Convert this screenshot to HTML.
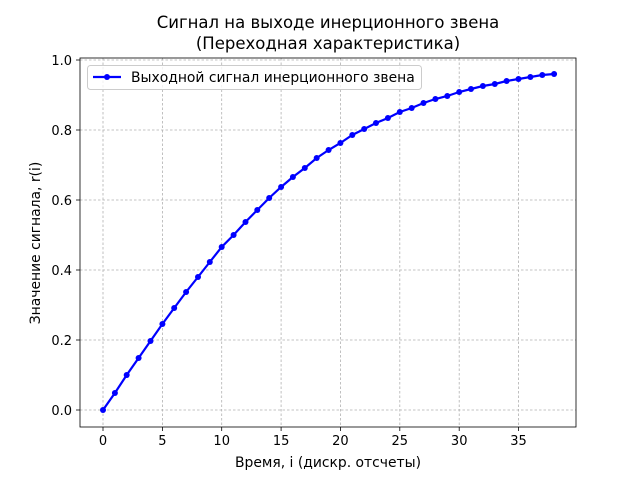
<!DOCTYPE html>
<html><head><meta charset="utf-8"><style>body{margin:0;background:#fff}</style></head><body>
<svg width="640" height="480" xmlns="http://www.w3.org/2000/svg" font-family="DejaVu Sans, sans-serif">
<rect width="640" height="480" fill="#fff"/>
<g stroke="#b0b0b0" stroke-width="0.8" stroke-dasharray="2.5,2">
<line x1="103" y1="58" x2="103" y2="427"/><line x1="162.4" y1="58" x2="162.4" y2="427"/><line x1="221.7" y1="58" x2="221.7" y2="427"/><line x1="281.1" y1="58" x2="281.1" y2="427"/><line x1="340.4" y1="58" x2="340.4" y2="427"/><line x1="399.8" y1="58" x2="399.8" y2="427"/><line x1="459.2" y1="58" x2="459.2" y2="427"/><line x1="518.5" y1="58" x2="518.5" y2="427"/>
<line x1="80" y1="410" x2="576" y2="410"/><line x1="80" y1="340" x2="576" y2="340"/><line x1="80" y1="270" x2="576" y2="270"/><line x1="80" y1="200" x2="576" y2="200"/><line x1="80" y1="130" x2="576" y2="130"/><line x1="80" y1="60" x2="576" y2="60"/>
</g>
<rect x="80" y="58" width="496" height="369" fill="none" stroke="#000" stroke-width="0.8"/>
<g stroke="#000" stroke-width="0.8">
<line x1="103" y1="427" x2="103" y2="431"/><line x1="162.4" y1="427" x2="162.4" y2="431"/><line x1="221.7" y1="427" x2="221.7" y2="431"/><line x1="281.1" y1="427" x2="281.1" y2="431"/><line x1="340.4" y1="427" x2="340.4" y2="431"/><line x1="399.8" y1="427" x2="399.8" y2="431"/><line x1="459.2" y1="427" x2="459.2" y2="431"/><line x1="518.5" y1="427" x2="518.5" y2="431"/>
<line x1="76" y1="410" x2="80" y2="410"/><line x1="76" y1="340" x2="80" y2="340"/><line x1="76" y1="270" x2="80" y2="270"/><line x1="76" y1="200" x2="80" y2="200"/><line x1="76" y1="130" x2="80" y2="130"/><line x1="76" y1="60" x2="80" y2="60"/>
</g>
<g font-size="13" text-anchor="middle">
<text x="103" y="445">0</text><text x="162.4" y="445">5</text><text x="221.7" y="445">10</text><text x="281.1" y="445">15</text><text x="340.4" y="445">20</text><text x="399.8" y="445">25</text><text x="459.2" y="445">30</text><text x="518.5" y="445">35</text>
</g>
<g font-size="13" text-anchor="end">
<text x="72" y="415">0.0</text><text x="72" y="345">0.2</text><text x="72" y="275">0.4</text><text x="72" y="205">0.6</text><text x="72" y="135">0.8</text><text x="72" y="65">1.0</text>
</g>
<text x="328" y="467" font-size="13.9" text-anchor="middle">Время, i (дискр. отсчеты)</text>
<text x="0" y="0" font-size="13.9" text-anchor="middle" transform="translate(40,243) rotate(-90)">Значение сигнала, r(i)</text>
<text x="328" y="28" font-size="16.5" text-anchor="middle">Сигнал на выходе инерционного звена</text>
<text x="328" y="49" font-size="16.5" text-anchor="middle">(Переходная характеристика)</text>
<g fill="#0000ff" stroke="#0000ff">
<polyline fill="none" stroke-width="2.2" points="103,410 114.9,393 126.7,375 138.6,358 150.5,341 162.4,324 174.2,308 186.1,292 198,277 209.8,262 221.7,247 233.6,235 245.5,222 257.3,210 269.2,198 281.1,187 292.9,177 304.8,168 316.7,158 328.6,150 340.4,143 352.3,135 364.2,129 376,123 387.9,118 399.8,112 411.7,108 423.5,103 435.4,99 447.3,96 459.2,92 471,89 482.9,86 494.8,84 506.6,81 518.5,79 530.4,77 542.3,75 554.1,74"/>
<g stroke="none">
<circle cx="103" cy="410" r="3"/><circle cx="114.9" cy="393" r="3"/><circle cx="126.7" cy="375" r="3"/><circle cx="138.6" cy="358" r="3"/><circle cx="150.5" cy="341" r="3"/><circle cx="162.4" cy="324" r="3"/><circle cx="174.2" cy="308" r="3"/><circle cx="186.1" cy="292" r="3"/><circle cx="198" cy="277" r="3"/><circle cx="209.8" cy="262" r="3"/><circle cx="221.7" cy="247" r="3"/><circle cx="233.6" cy="235" r="3"/><circle cx="245.5" cy="222" r="3"/><circle cx="257.3" cy="210" r="3"/><circle cx="269.2" cy="198" r="3"/><circle cx="281.1" cy="187" r="3"/><circle cx="292.9" cy="177" r="3"/><circle cx="304.8" cy="168" r="3"/><circle cx="316.7" cy="158" r="3"/><circle cx="328.6" cy="150" r="3"/><circle cx="340.4" cy="143" r="3"/><circle cx="352.3" cy="135" r="3"/><circle cx="364.2" cy="129" r="3"/><circle cx="376" cy="123" r="3"/><circle cx="387.9" cy="118" r="3"/><circle cx="399.8" cy="112" r="3"/><circle cx="411.7" cy="108" r="3"/><circle cx="423.5" cy="103" r="3"/><circle cx="435.4" cy="99" r="3"/><circle cx="447.3" cy="96" r="3"/><circle cx="459.2" cy="92" r="3"/><circle cx="471" cy="89" r="3"/><circle cx="482.9" cy="86" r="3"/><circle cx="494.8" cy="84" r="3"/><circle cx="506.6" cy="81" r="3"/><circle cx="518.5" cy="79" r="3"/><circle cx="530.4" cy="77" r="3"/><circle cx="542.3" cy="75" r="3"/><circle cx="554.1" cy="74" r="3"/>
</g></g>
<rect x="87.5" y="65.5" width="334" height="24" rx="3" fill="#fff" fill-opacity="0.8" stroke="#ccc"/>
<line x1="93" y1="77" x2="121" y2="77" stroke="#0000ff" stroke-width="2.2"/>
<circle cx="107" cy="77" r="3" fill="#0000ff"/>
<text x="131" y="82" font-size="13.9">Выходной сигнал инерционного звена</text>
</svg>
</body></html>
